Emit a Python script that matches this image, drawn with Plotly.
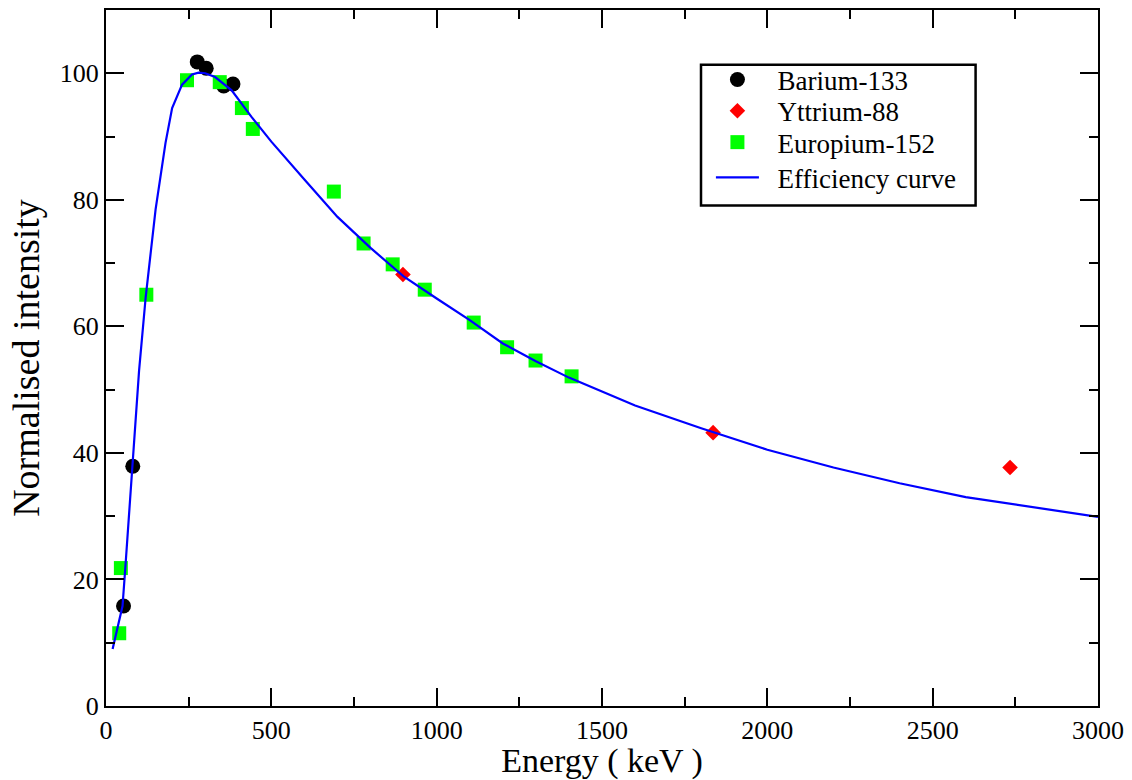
import plotly.graph_objects as go

# Barium-133
ba_energy = [53, 81, 276, 303, 356, 384]
ba_intensity = [15.8, 37.9, 101.8, 100.8, 98.0, 98.3]

# Yttrium-88
y_energy = [898, 1836, 2734]
y_intensity = [68.2, 43.2, 37.7]

# Europium-152
eu_energy = [40, 45, 122, 245, 344, 411, 444, 689, 779, 867, 964, 1112, 1213, 1299, 1408]
eu_intensity = [11.5, 21.8, 65.0, 98.9, 98.6, 94.5, 91.2, 81.3, 73.1, 69.8, 65.8, 60.6, 56.7, 54.6, 52.1]

# Efficiency curve
curve_energy = [20, 50, 60, 80, 100, 120, 150, 180, 200, 230, 260, 280, 300, 330, 380,
                440, 500, 600, 700, 800, 900, 1000, 1100, 1200, 1300, 1400, 1600, 1800,
                2000, 2200, 2400, 2600, 2800, 3000]
curve_intensity = [9.0, 15.8, 23.0, 37.9, 53.0, 64.6, 78.5, 89.0, 94.5, 98.2, 99.8, 100.1,
                   100.0, 99.4, 97.3, 93.1, 89.2, 83.2, 77.3, 72.4, 67.9, 64.4, 61.0, 57.3,
                   54.5, 51.9, 47.5, 43.9, 40.5, 37.7, 35.2, 33.0, 31.4, 29.9]

FONT = "Liberation Serif, Times New Roman, serif"
PAD = "\u00a0\u00a0"

fig = go.Figure()
fig.add_trace(go.Scatter(x=ba_energy, y=ba_intensity, mode="markers", name=PAD + "Barium-133",
                         legend="legend",
                         marker=dict(symbol="circle", size=15, color="#000000")))
fig.add_trace(go.Scatter(x=y_energy, y=y_intensity, mode="markers", name=PAD + "Yttrium-88",
                         legend="legend2",
                         marker=dict(symbol="diamond", size=12, color="#ff0000")))
fig.add_trace(go.Scatter(x=eu_energy, y=eu_intensity, mode="markers", name=PAD + "Europium-152",
                         legend="legend3",
                         marker=dict(symbol="square", size=14, color="#00ff00")))
fig.add_trace(go.Scatter(x=curve_energy, y=curve_intensity, mode="lines", name=PAD + "Efficiency curve",
                         legend="legend4",
                         line=dict(color="#0000ff", width=2.2)))

axis_common = dict(
    showgrid=False, zeroline=False, showline=True, linecolor="black", linewidth=2,
    mirror="allticks", ticks="inside", ticklen=18, tickwidth=2, tickcolor="black",
    tickfont=dict(family=FONT, size=26, color="black"),
)

fig.update_xaxes(range=[0, 3000], dtick=500, tick0=0,
                 minor=dict(dtick=250, ticklen=9, tickwidth=1.5, tickcolor="black", ticks="inside"),
                 title=dict(text="Energy ( keV )", font=dict(family=FONT, size=34, color="black"), standoff=2),
                 **axis_common)
fig.update_yaxes(range=[0, 110], dtick=20, tick0=0,
                 minor=dict(dtick=10, ticklen=9, tickwidth=1.5, tickcolor="black", ticks="inside"),
                 title=dict(text="Normalised intensity", font=dict(family=FONT, size=38, color="black"), standoff=8),
                 **axis_common)

leg_common = dict(xanchor="left", yanchor="middle", bgcolor="rgba(0,0,0,0)", borderwidth=0,
                  font=dict(family=FONT, size=27, color="black"), itemwidth=43)
leg_x = 0.6098
fig.update_layout(
    width=1132, height=780,
    margin=dict(l=106, r=28, t=8, b=74),
    plot_bgcolor="white", paper_bgcolor="white",
    legend=dict(x=leg_x, y=0.8995, **leg_common),
    legend2=dict(x=leg_x, y=0.8545, **leg_common),
    legend3=dict(x=leg_x, y=0.8095, **leg_common),
    legend4=dict(x=leg_x, y=0.7590, **leg_common),
    showlegend=True,
    shapes=[dict(type="rect", xref="paper", yref="paper", x0=0.5998, x1=0.8766,
                 y0=0.7192, y1=0.9212, line=dict(color="black", width=2.5),
                 fillcolor="rgba(0,0,0,0)", layer="above")],
)

fig.write_html("out.html")
